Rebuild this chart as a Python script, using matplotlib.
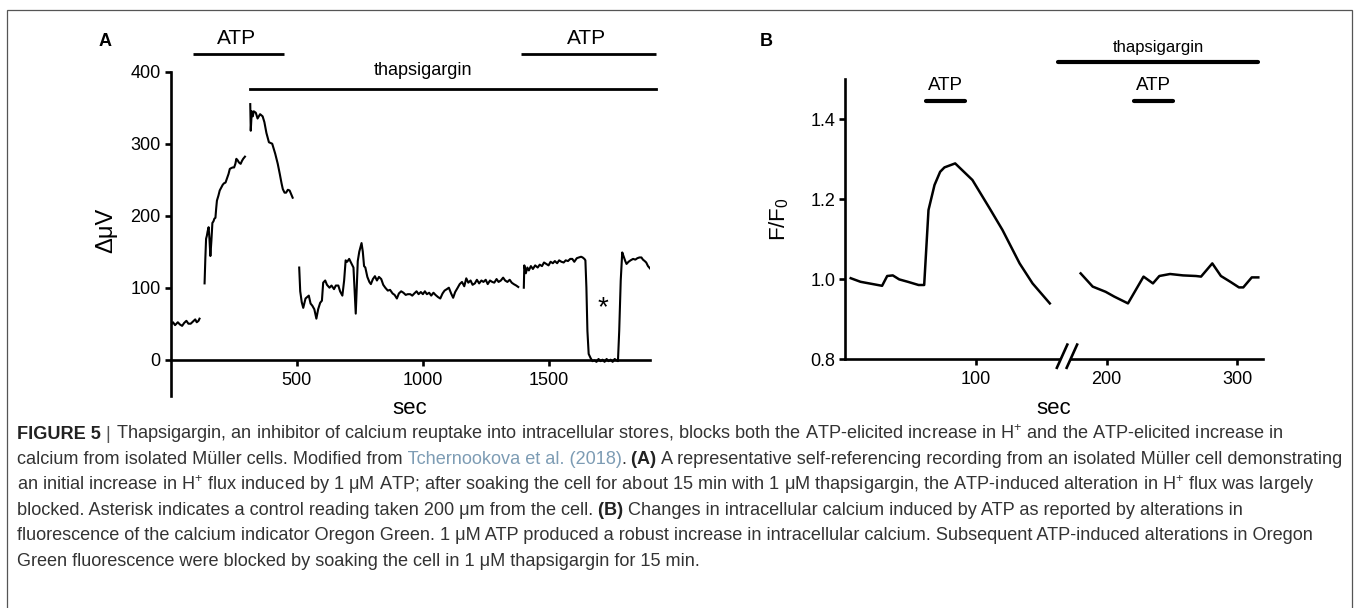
import matplotlib.pyplot as plt
from matplotlib.patches import Rectangle

plt.rcParams.update({
    "font.family": ["Liberation Sans", "DejaVu Sans"],
    "mathtext.fontset": "custom",
    "mathtext.rm": "Liberation Sans",
    "mathtext.it": "Liberation Sans:italic",
    "mathtext.bf": "Liberation Sans:bold",
    "mathtext.default": "regular",
    "axes.linewidth": 1.9,
    "xtick.major.width": 1.9,
    "ytick.major.width": 1.9,
    "xtick.major.size": 4,
    "ytick.major.size": 4,
    "xtick.labelsize": 13,
    "ytick.labelsize": 13,
})

# ---------------- panel A: self-referencing H+ flux (sec, delta uV) ----------------
a_base_t = [0, 3, 10, 18, 29, 37, 46, 54, 63, 71, 80, 89, 98, 104, 111, 115]
a_base_v = [50, 49, 52, 48, 52, 49, 47, 51, 54, 50, 50, 53, 56, 52, 54, 57]

a_atp_t = [135, 138, 141, 144, 147, 151, 154, 158, 162, 166, 170, 174, 178, 181, 184, 190,
           195, 201, 207, 212, 218, 224, 230, 235, 240, 246, 252, 257, 261, 266, 271, 278,
           283, 288, 295]
a_atp_v = [106, 140, 168, 172, 178, 184, 170, 144, 165, 190, 192, 196, 197, 210, 221, 228,
           235, 239, 243, 245, 246, 252, 258, 265, 266, 267, 267, 272, 279, 277, 274, 272,
           276, 279, 282]

a_thap_t = [316, 318, 322, 326, 330, 338, 345, 355, 365, 372, 380, 390, 403, 415, 425, 433,
            440, 445, 452, 458, 465, 472, 478, 484]
a_thap_v = [355, 318, 345, 338, 345, 343, 335, 341, 338, 330, 315, 302, 300, 286, 272, 258,
            245, 237, 232, 232, 236, 235, 230, 225]

a_soak_t = [510, 514, 520, 526, 535, 548, 555, 562, 570, 578, 585, 593, 600, 605, 613, 620,
            630, 638, 648, 655, 665, 672, 681, 688, 694, 700, 708, 715, 725, 729, 734, 738,
            742, 748, 757, 762, 767, 772, 780, 788, 794, 802, 810, 818, 826, 835, 843, 851,
            861, 870, 880, 888, 897, 905, 914, 923, 932, 940, 950, 958, 966, 975, 983, 992,
            1000, 1008, 1016, 1025, 1033, 1042, 1050, 1060, 1069, 1078, 1086, 1095, 1103,
            1112, 1120, 1128, 1138, 1146, 1155, 1164, 1172, 1180, 1189, 1197, 1206, 1214,
            1223, 1232, 1240, 1249, 1257, 1266, 1275, 1283, 1292, 1300, 1309, 1318, 1326,
            1335, 1344, 1352, 1360, 1370, 1378]
a_soak_v = [128, 95, 80, 72, 85, 89, 78, 75, 70, 57, 70, 79, 82, 107, 110, 104,
            100, 103, 98, 103, 103, 95, 89, 110, 138, 136, 140, 135, 128, 100, 64, 100,
            137, 150, 162, 150, 130, 128, 115, 108, 105, 112, 116, 110, 115, 112, 104, 100,
            96, 97, 92, 90, 85, 92, 95, 93, 90, 91, 91, 89, 92, 95, 91, 94,
            91, 95, 91, 93, 89, 93, 90, 87, 85, 92, 96, 98, 100,
            92, 86, 94, 100, 105, 108, 102, 113, 107, 110, 104, 106, 111,
            106, 110, 108, 111, 105, 110, 108, 107, 112, 108, 110, 114, 110,
            108, 111, 107, 105, 103, 101]

a_atp2_t = [1400, 1402, 1408, 1414, 1420, 1428, 1436, 1445, 1455, 1463, 1472, 1480, 1489,
            1498, 1506, 1515, 1523, 1532, 1540, 1549, 1558, 1566, 1575, 1584, 1592, 1600,
            1610, 1618, 1627, 1633, 1640, 1644, 1648, 1652, 1657, 1665, 1672, 1680, 1688,
            1696, 1704, 1712, 1720, 1728, 1736, 1744, 1752, 1760, 1768, 1773, 1778, 1784,
            1790, 1796, 1802, 1807, 1815, 1823, 1833, 1842, 1850, 1858, 1866, 1872, 1879,
            1885, 1892, 1902]
a_atp2_v = [100, 131, 120, 128, 124, 130, 126, 131, 128, 132, 130, 135, 133,
            131, 136, 134, 137, 134, 138, 136, 135, 138, 137, 140, 140, 136,
            141, 142, 143, 142, 140, 138, 100, 40, 8, 2, -2, -1, -3,
            1, -2, 0, -3, 1, -2, 0, -3, 1, -1, -2, 40, 110,
            149, 143, 137, 133, 136, 138, 140, 139, 141, 142, 142, 139, 137,
            135, 130, 126]

a_segments = [(a_base_t, a_base_v), (a_atp_t, a_atp_v), (a_thap_t, a_thap_v),
              (a_soak_t, a_soak_v), (a_atp2_t, a_atp2_v)]

# application bars (start, end) in sec
a_atp_bars = [(88, 448), (1387, 1923)]
a_thap_bar = (314, 1923)
a_asterisk = (1712, 72)

# ---------------- panel B: Oregon Green fluorescence (sec, F/F0) ----------------
b_pre_t = [4.3, 11.8, 18.4, 28.3, 32.2, 36.5, 41.4, 48, 56.2, 60.5, 63.8, 68.4, 72.7, 76,
           84.2, 97.4, 110.5, 120.4, 133.5, 143.4, 150, 156.6]
b_pre_v = [1.002, 0.993, 0.989, 0.983, 1.0075, 1.009, 0.999, 0.993, 0.985, 0.985, 1.1725,
           1.235, 1.268, 1.279, 1.289, 1.2475, 1.177, 1.1225, 1.039, 0.989, 0.964, 0.939]

b_post_t = [180.2, 189.4, 199.3, 205.9, 216.4, 228.3, 235.5, 240.4, 248.6, 258.5, 268.4,
            272.3, 280.9, 287.5, 294.7, 301.3, 304.6, 311.1, 316.1]
b_post_v = [1.014, 0.981, 0.968, 0.956, 0.939, 1.006, 0.989, 1.0075, 1.0125, 1.009, 1.0075,
            1.006, 1.039, 1.0075, 0.993, 0.979, 0.979, 1.004, 1.004]

b_atp_bars = [(61.8, 91.4), (221.3, 251.0)]
b_thap_bar = (163.1, 316.1)
b_break_x = 169.5

CAPTION = [
    [("FIGURE 5", "bold", "#222222"), (" | ", "normal", "#555555"),
     ("Thapsigargin, an inhibitor of calcium reuptake into intracellular stores, blocks both the "
      "ATP-elicited increase in H$^{+}$ and the ATP-elicited increase in", "normal", "#333333")],
    [("calcium from isolated Müller cells. Modified from", "normal", "#333333"),
     (" Tchernookova et al. (2018)", "normal", "#7d9cb4"),
     (".", "normal", "#333333"), (" (A)", "bold", "#222222"),
     (" A representative self-referencing recording from an isolated Müller cell demonstrating",
      "normal", "#333333")],
    [("an initial increase in H$^{+}$ flux induced by 1 μM ATP; after soaking the cell for about "
      "15 min with 1 μM thapsigargin, the ATP-induced alteration in H$^{+}$ flux was largely",
      "normal", "#333333")],
    [("blocked. Asterisk indicates a control reading taken 200 μm from the cell.", "normal", "#333333"),
     (" (B)", "bold", "#222222"),
     (" Changes in intracellular calcium induced by ATP as reported by alterations in",
      "normal", "#333333")],
    [("fluorescence of the calcium indicator Oregon Green. 1 μM ATP produced a robust increase in "
      "intracellular calcium. Subsequent ATP-induced alterations in Oregon", "normal", "#333333")],
    [("Green fluorescence were blocked by soaking the cell in 1 μM thapsigargin for 15 min.",
      "normal", "#333333")],
]

W, H = 1354, 608
fig = plt.figure(figsize=(W / 100, H / 100), dpi=100)
bg = fig.add_axes([0, 0, 1, 1])
bg.set_axis_off()
bg.set_xlim(0, 1)
bg.set_ylim(0, 1)
bg.add_patch(Rectangle((7 / W, -0.1), (1352 - 7) / W, 1.1 - 10 / H, fill=False,
                       edgecolor="#555555", lw=0.9, transform=fig.transFigure, clip_on=False))

# ---- panel A ----
axA = fig.add_axes([170.5 / W, 1 - 395.7 / H, 479.5 / W, 324 / H])
for t, v in a_segments:
    axA.plot(t, v, color="black", lw=1.5)
axA.set_xlim(0, 1900)
axA.set_ylim(-50, 400)
axA.spines[["top", "right"]].set_visible(False)
axA.spines["bottom"].set_position(("data", 0))
axA.set_xticks([500, 1000, 1500])
axA.set_yticks([0, 100, 200, 300, 400])
axA.tick_params(pad=3)
axA.tick_params(axis="x", pad=5)
for s, e in a_atp_bars:
    axA.plot([s, e], [424, 424], color="black", lw=2.0, clip_on=False, solid_capstyle="butt")
    axA.text((s + e) / 2 - 8, 446, "ATP", ha="center", va="center", fontsize=15, clip_on=False)
axA.plot(list(a_thap_bar), [376, 376], color="black", lw=2.0, clip_on=False)
axA.text(1000, 401, "thapsigargin", ha="center", va="center", fontsize=13)
axA.text(a_asterisk[0], a_asterisk[1], "*", ha="center", va="center", fontsize=20)
fig.text(106 / W, 1 - 230 / H, "ΔμV", rotation=90, ha="center", va="center", fontsize=17)
fig.text(410 / W, 1 - 408 / H, "sec", ha="center", va="center", fontsize=16)
fig.text(105 / W, 1 - 41 / H, "A", ha="center", va="center", fontsize=13, fontweight="bold")

# ---- panel B ----
axB = fig.add_axes([845.1 / W, 1 - 359 / H, 418.3 / W, 280 / H])
axB.plot(b_pre_t, b_pre_v, color="black", lw=1.8)
axB.plot(b_post_t, b_post_v, color="black", lw=1.8)
axB.set_xlim(0, 320)
axB.set_ylim(0.8, 1.5)
axB.spines[["top", "right"]].set_visible(False)
axB.set_xticks([100, 200, 300])
axB.set_yticks([0.8, 1.0, 1.2, 1.4])
axB.set_yticklabels(["0.8", "1.0", "1.2", "1.4"])
axB.tick_params(pad=3)
axB.tick_params(axis="x", pad=5)
for s, e in b_atp_bars:
    axB.plot([s, e], [1.446, 1.446], color="black", lw=3.0, clip_on=False,
             solid_capstyle="round")
    axB.text((s + e) / 2, 1.484, "ATP", ha="center", va="center", fontsize=13.5,
             clip_on=False)
axB.plot(list(b_thap_bar), [1.542, 1.542], color="black", lw=3.0, clip_on=False,
         solid_capstyle="round")
axB.text(sum(b_thap_bar) / 2, 1.578, "thapsigargin", ha="center", va="center",
         fontsize=12, clip_on=False)
# axis break marks
axB.plot([b_break_x - 4.5, b_break_x + 3.5], [0.8, 0.8], color="white", lw=3, clip_on=False,
         zorder=5, solid_capstyle="butt")
for dx in (-3.5, 4.0):
    axB.plot([b_break_x + dx - 4, b_break_x + dx + 4], [0.778, 0.836], color="black", lw=1.9,
             clip_on=False, zorder=6)
fig.text(779 / W, 1 - 219 / H, "F/F$_0$", rotation=90, ha="center", va="center", fontsize=16)
fig.text(1054 / W, 1 - 408 / H, "sec", ha="center", va="center", fontsize=16)
fig.text(766 / W, 1 - 42 / H, "B", ha="center", va="center", fontsize=13, fontweight="bold")

# ---- caption ----
CAP_SIZE = 13.1
y0 = 1 - 439 / H
for i, pieces in enumerate(CAPTION):
    y = y0 - i * 25.3 / H
    prev = None
    for s, weight, color in pieces:
        kw = dict(fontsize=CAP_SIZE, fontweight=weight, color=color, va="baseline", ha="left")
        if prev is None:
            prev = bg.text(17 / W, y, s, transform=fig.transFigure, **kw)
        else:
            prev = bg.annotate(s, xy=(1, y), xycoords=(prev, "figure fraction"), **kw)

fig.savefig("out.png", dpi=100)
